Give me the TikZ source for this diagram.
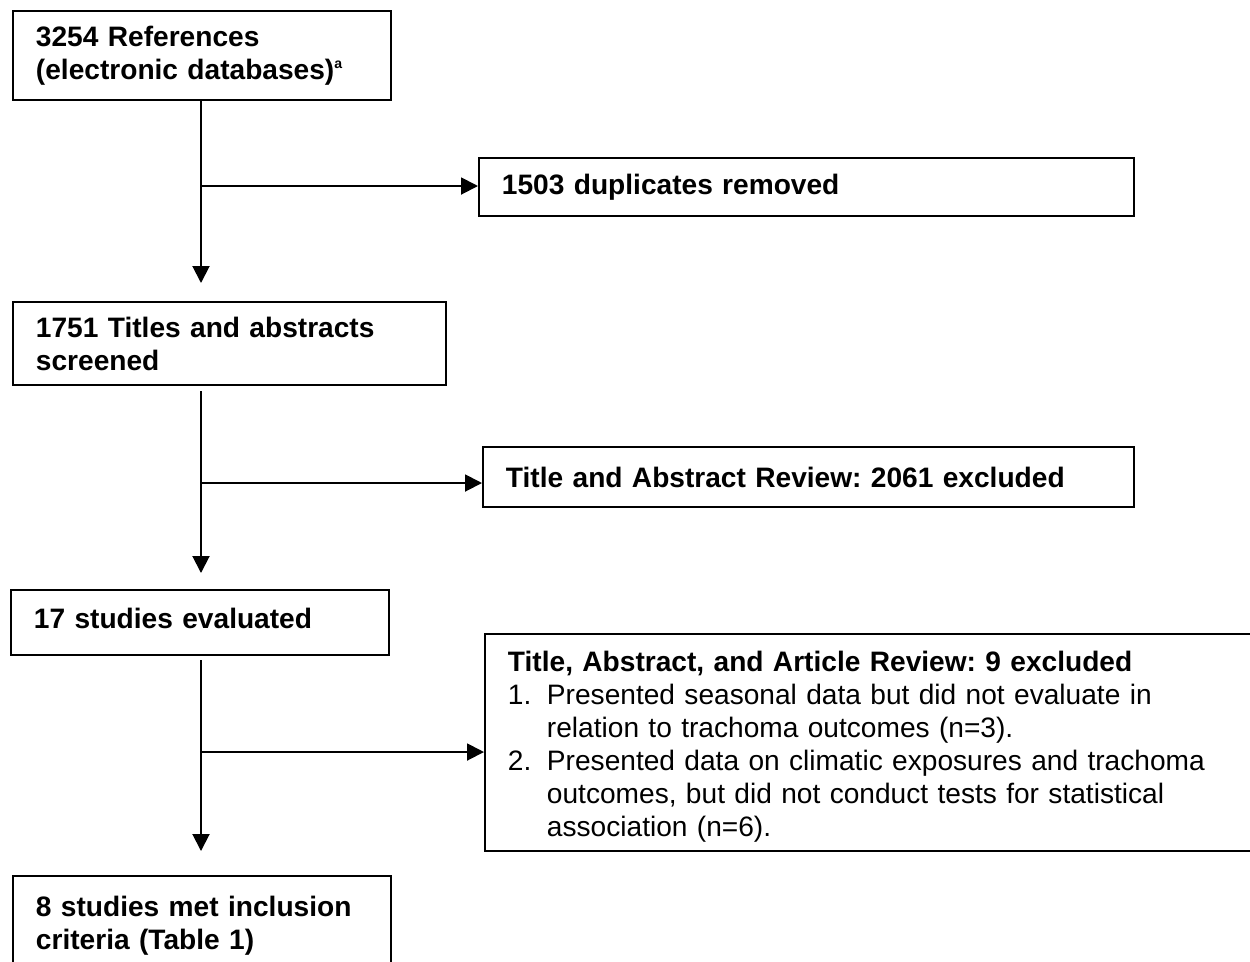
\documentclass[tikz,border=0pt]{standalone}
\usepackage{fontspec}
\setmainfont{Liberation Sans}
\usetikzlibrary{arrows.meta}
\frenchspacing
\newcommand{\itemno}[1]{\makebox[0.78cm][l]{#1}}
\newcommand{\itemgap}{\hspace*{0.78cm}}
\begin{document}
\begin{tikzpicture}[x=0.02cm,y=-0.02cm,
  box/.style={draw,line width=1.1pt,anchor=north west,inner xsep=0.46cm,
    inner ysep=0pt,align=left,font=\fontsize{16}{18.8}\selectfont},
  flow/.style={line width=1.1pt,-{Triangle[length=0.34cm,width=0.34cm]}}]
\clip (0,0) rectangle (1250,961);

% boxes on the left
\node[box,text width=6.64cm,minimum height=1.78cm] (refs) at (12,10)
  {\bfseries 3254 References\\ \bfseries (electronic databases)\raisebox{0.7ex}{\fontsize{8}{8}\selectfont a}};
\node[box,text width=7.74cm,minimum height=1.66cm] (screen) at (12,301)
  {\bfseries 1751 Titles and abstracts\\ \bfseries screened};
\node[box,text width=6.64cm,minimum height=1.3cm,text depth=0.16cm] (eval) at (10,589)
  {\bfseries 17 studies evaluated};
\node[box,text width=6.64cm,minimum height=2.0cm] (incl) at (12,875)
  {\bfseries 8 studies met inclusion\\ \bfseries criteria (Table 1)};

% boxes on the right
\node[box,text width=12.18cm,minimum height=1.16cm] (dup) at (478,157)
  {\bfseries 1503 duplicates removed};
\node[box,text width=12.1cm,minimum height=1.2cm] (excl) at (482,446)
  {\bfseries Title and Abstract Review: 2061 excluded};
\node[box,text width=14.64cm,minimum height=4.34cm] (crit) at (484,633)
  {\rule{0pt}{0.57cm}{\bfseries Title, Abstract, and Article Review: 9 excluded}\\
   \itemno{1.}Presented seasonal data but did not evaluate in\\
   \itemgap relation to trachoma outcomes (n=3).\\
   \itemno{2.}Presented data on climatic exposures and trachoma\\
   \itemgap outcomes, but did not conduct tests for statistical\\
   \itemgap association (n=6).};

% main line
\coordinate (a1) at (201,283);
\coordinate (b1) at (201,186);
\coordinate (s2) at (201,391);
\coordinate (a2) at (201,573);
\coordinate (b2) at (201,483);
\coordinate (s3) at (201,660);
\coordinate (a3) at (201,851);
\coordinate (b3) at (201,752);

\draw[flow] (a1 |- refs.south) -- (a1);
\draw[flow] (b1) -- (b1 -| dup.west);
\draw[flow] (s2) -- (a2);
\draw[flow] (b2) -- (b2 -| excl.west);
\draw[flow] (s3) -- (a3);
\draw[flow] (b3) -- (b3 -| crit.west);
\end{tikzpicture}
\end{document}
